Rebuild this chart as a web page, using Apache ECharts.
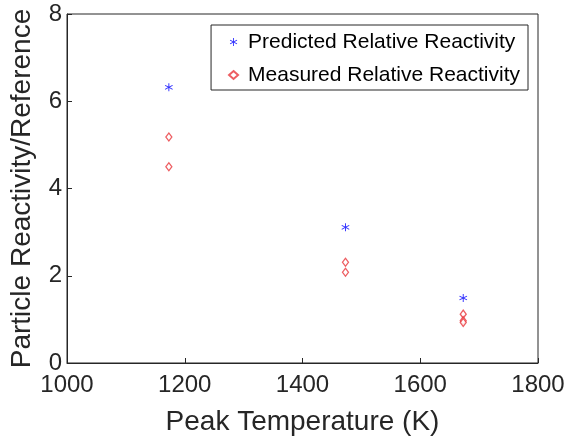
<!DOCTYPE html>
<html><head><meta charset="utf-8">
<script src="https://cdn.jsdelivr.net/npm/echarts@6/dist/echarts.min.js"></script>
<style>html,body{margin:0;padding:0;background:#fff}#c{width:571px;height:443px}</style>
</head><body><div id="c"></div>
<script>
const predictedT = [1173, 1473, 1673];
const predictedVal = [6.32, 3.11, 1.49];
const measuredT = [1173, 1173, 1473, 1473, 1673, 1673, 1673];
const measuredVal = [5.18, 4.50, 2.31, 2.08, 1.12, 0.97, 0.93];
const xTicks = [1000, 1200, 1400, 1600, 1800];
const yTicks = [0, 2, 4, 6, 8];

const font = 'Liberation Sans, Arial, sans-serif';
const asterisk = 'path://M9,0h2v7.3l6.3,-3.6l1,1.7l-6.3,3.6l6.3,3.6l-1,1.7l-6.3,-3.6v7.3h-2v-7.3l-6.3,3.6l-1,-1.7l6.3,-3.6l-6.3,-3.6l1,-1.7l6.3,3.6z';

const chart = echarts.init(document.getElementById('c'));
chart.setOption({
  animation: false,
  backgroundColor: '#fff',
  grid: {left: 67, right: 33, top: 14, bottom: 80, show: true, borderColor: '#262626', borderWidth: 1},
  legend: {
    right: 43, top: 25, orient: 'vertical',
    borderColor: '#262626', borderWidth: 1, padding: [5, 8, 3, 17],
    itemGap: 9, itemWidth: 9, itemHeight: 8,
    textStyle: {fontFamily: font, fontSize: 21, lineHeight: 24, color: '#000', padding: [0, 0, 0, 5]},
    data: ['Predicted Relative Reactivity', 'Measured Relative Reactivity']
  },
  xAxis: {
    type: 'value', min: xTicks[0], max: xTicks[xTicks.length - 1], interval: 200,
    name: 'Peak Temperature (K)', nameLocation: 'middle', nameGap: 45,
    nameTextStyle: {fontFamily: font, fontSize: 28, color: '#262626'},
    axisLine: {lineStyle: {color: '#262626'}},
    axisTick: {inside: true, length: 5, lineStyle: {color: '#262626'}},
    axisLabel: {fontFamily: font, fontSize: 24, color: '#262626', margin: 10, formatter: v => String(v)},
    splitLine: {show: false}
  },
  yAxis: {
    type: 'value', min: yTicks[0], max: yTicks[yTicks.length - 1], interval: 2,
    name: 'Particle Reactivity/Reference', nameLocation: 'middle', nameGap: 31,
    nameTextStyle: {fontFamily: font, fontSize: 28, color: '#262626'},
    axisLine: {show: true, lineStyle: {color: '#262626'}},
    axisTick: {show: true, inside: true, length: 5, lineStyle: {color: '#262626'}},
    axisLabel: {fontFamily: font, fontSize: 24, color: '#262626', margin: 5, formatter: v => String(v)},
    splitLine: {show: false}
  },
  series: [
    {
      name: 'Predicted Relative Reactivity', type: 'scatter',
      symbol: asterisk, symbolSize: 8,
      itemStyle: {color: '#0000ff'},
      data: predictedT.map((t, i) => [t, predictedVal[i]])
    },
    {
      name: 'Measured Relative Reactivity', type: 'scatter',
      symbol: 'diamond', symbolSize: [6, 8],
      itemStyle: {color: '#fff', borderColor: '#e8353a', borderWidth: 1.3},
      data: measuredT.map((t, i) => [t, measuredVal[i]])
    }
  ]
});
</script></body></html>
